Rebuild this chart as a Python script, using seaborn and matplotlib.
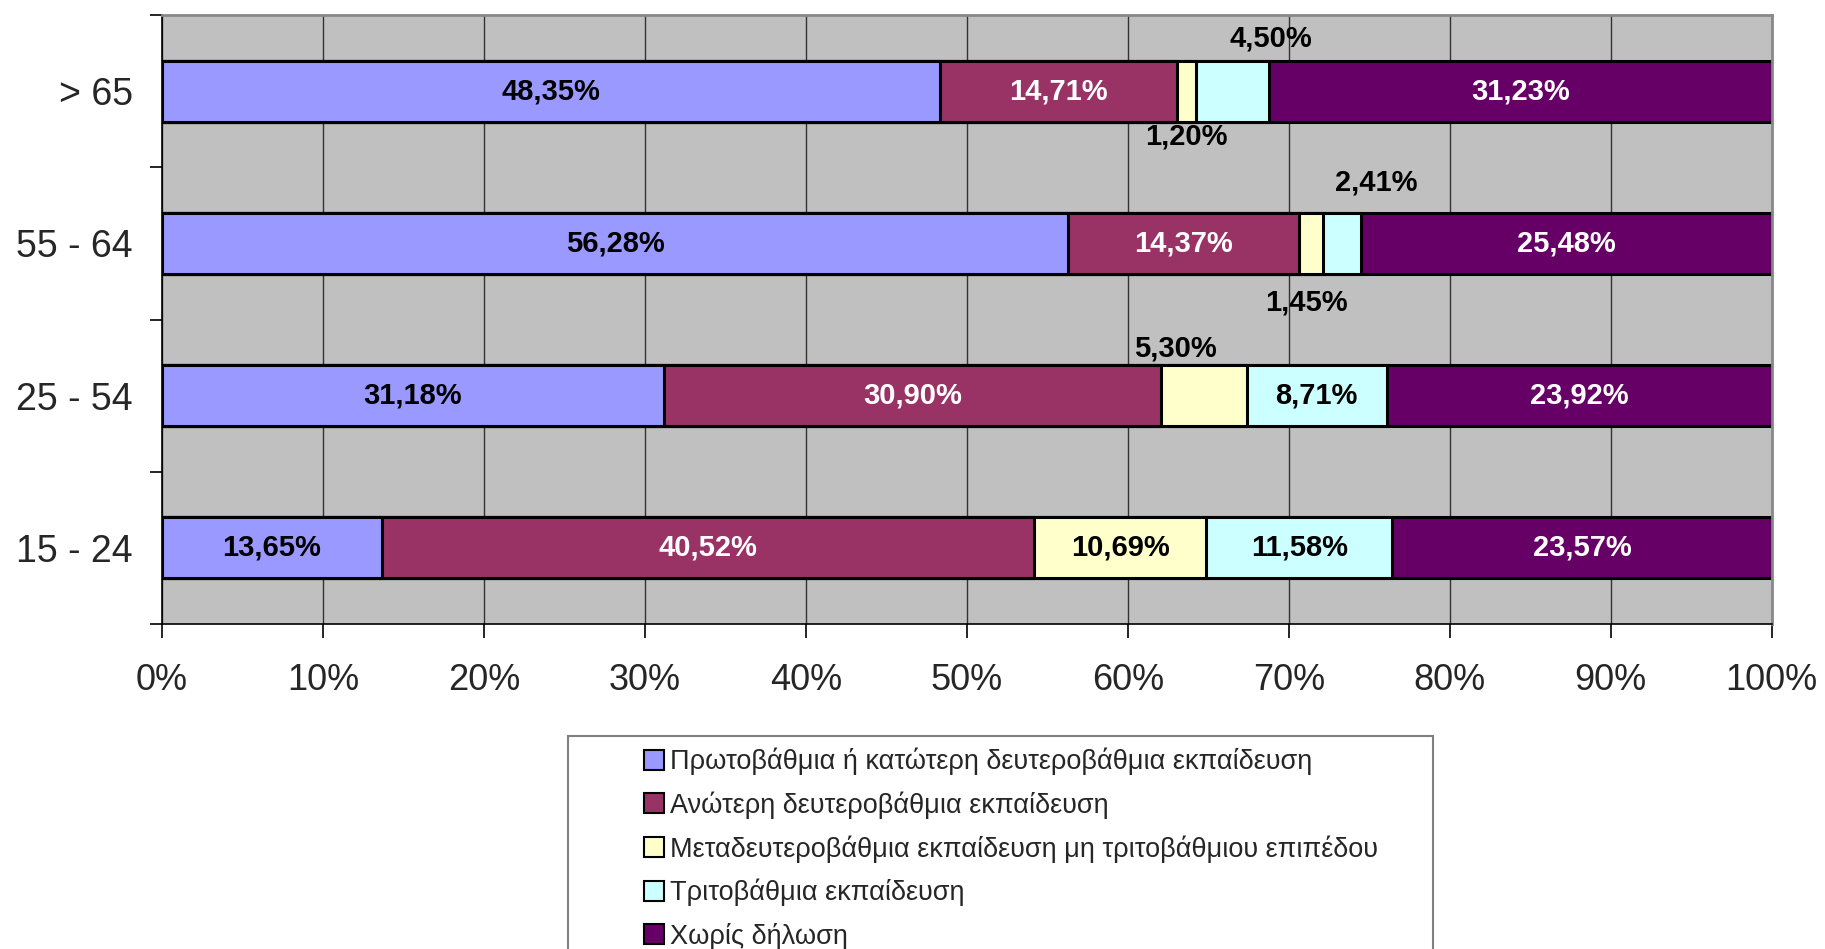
import matplotlib
matplotlib.use("Agg")
import numpy as np
import pandas as pd
import matplotlib.pyplot as plt
import seaborn as sns
from matplotlib.patches import Rectangle, Patch
from matplotlib.ticker import FixedLocator, PercentFormatter

# data
groups = ["> 65", "55 - 64", "25 - 54", "15 - 24"]
series = ["Πρωτοβάθμια ή κατώτερη δευτεροβάθμια εκπαίδευση",
          "Ανώτερη δευτεροβάθμια εκπαίδευση",
          "Μεταδευτεροβάθμια εκπαίδευση μη τριτοβάθμιου επιπέδου",
          "Τριτοβάθμια εκπαίδευση",
          "Χωρίς δήλωση"]
primary = [48.35, 56.28, 31.18, 13.65]
upper_secondary = [14.71, 14.37, 30.90, 40.52]
post_secondary = [1.20, 1.45, 5.30, 10.69]
tertiary = [4.50, 2.41, 8.71, 11.58]
no_answer = [31.23, 25.48, 23.92, 23.57]

colors = ["#9999FF", "#993366", "#FFFFCC", "#CCFFFF", "#660066"]
text_colors = ["black", "white", "black", "black", "white"]
# labels moved outside the bar: (group, series index, dx in %, dy in category units)
outside = {(0, 2): (0.0, 0.30), (0, 3): (2.4, -0.35),
           (1, 2): (-0.3, 0.39), (1, 3): (2.1, -0.40),
           (2, 2): (-1.8, -0.31)}

values = np.array([primary, upper_secondary, post_secondary, tertiary, no_answer])
cum = values.cumsum(axis=0)

sns.set_style("white")
plt.rcParams["font.family"] = ["Liberation Sans", "DejaVu Sans"]

fig = plt.figure(figsize=(18.25, 9.49), dpi=100)
ax = fig.add_axes([0.0888, 0.3425, 0.8820, 0.6415])
ax.set_facecolor("#C0C0C0")

# stacked bars: draw cumulative totals from longest to shortest
for i in reversed(range(len(series))):
    df = pd.DataFrame({"group": groups, "value": cum[i]})
    sns.barplot(data=df, x="value", y="group", orient="h", color=colors[i],
                saturation=1, width=0.4, edgecolor="black", linewidth=2.2, ax=ax)

# value labels
for g in range(len(groups)):
    for i in range(len(series)):
        start = cum[i, g] - values[i, g]
        xc = start + values[i, g] / 2
        txt = f"{values[i, g]:.2f}%".replace(".", ",")
        if (g, i) in outside:
            dx, dy = outside[(g, i)]
            ax.text(xc + dx, g + dy, txt, ha="center", va="center", fontsize=21,
                    fontweight="bold", color="black")
        else:
            ax.text(xc, g, txt, ha="center", va="center", fontsize=21,
                    fontweight="bold", color=text_colors[i])

ax.set_xlim(0, 100)
ax.set_ylim(3.5, -0.5)
ax.xaxis.set_major_locator(FixedLocator(np.arange(0, 101, 10)))
ax.xaxis.set_major_formatter(PercentFormatter(decimals=0))
ax.grid(axis="x", color="#333333", linewidth=1)
ax.set_axisbelow(True)
ax.set_xlabel("")
ax.set_ylabel("")

ax.yaxis.set_minor_locator(FixedLocator([-0.5, 0.5, 1.5, 2.5, 3.5]))
ax.tick_params(axis="y", which="major", length=0, labelsize=27, pad=21)
ax.tick_params(axis="y", which="minor", length=9, width=1.2, color="black", left=True)
ax.tick_params(axis="x", which="major", length=10, width=1.2, color="black",
               bottom=True, labelsize=26, pad=18)

for side in ["left", "bottom"]:
    ax.spines[side].set_color("black")
    ax.spines[side].set_linewidth(1.2)
for side in ["top", "right"]:
    ax.spines[side].set_color("#888888")
    ax.spines[side].set_linewidth(2)

# legend box and entries
fig.patches.append(Rectangle((0.311, -0.1), 0.474, 0.3244, transform=fig.transFigure,
                             fill=False, edgecolor="#808080", linewidth=1.5))
handles = [Patch(facecolor=c, edgecolor="black", linewidth=1.5) for c in colors]
fig.legend(handles, series, loc="upper left", bbox_to_anchor=(0.3455, 0.2265),
           frameon=False, handlelength=0.75, handleheight=0.75,
           handletextpad=0.2, labelspacing=0.6, borderpad=0,
           prop={"family": ["Liberation Sans Narrow", "Liberation Sans", "DejaVu Sans"], "size": 19.5})

fig.savefig("out.png", dpi=100)
